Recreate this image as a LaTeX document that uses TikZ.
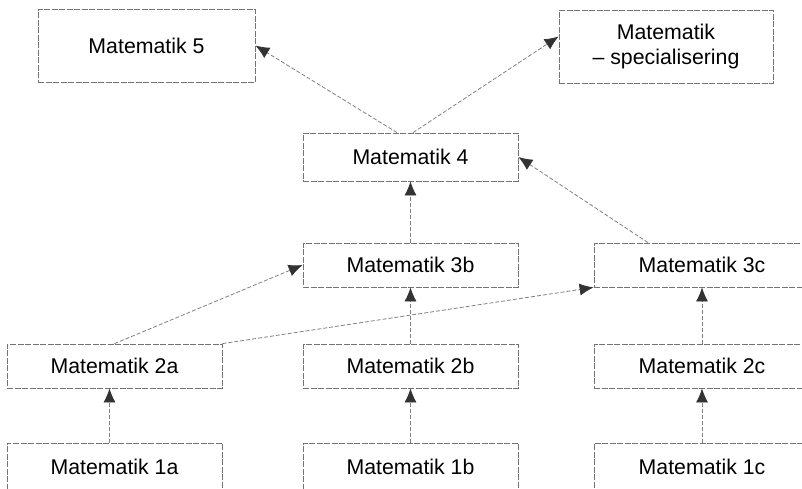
\documentclass[tikz,border=0pt]{standalone}
\usepackage{fontspec}
\setmainfont{Liberation Sans}
\usetikzlibrary{arrows.meta}
\begin{document}
\begin{tikzpicture}[x=1pt,y=-1pt,
  box/.style={draw=black!55, line width=0.8pt, dash pattern=on 6pt off 1.5pt,
    inner sep=0pt, align=center, text=black,
    font=\fontsize{21.3}{25.6}\selectfont},
  link/.style={draw=black!50, line width=0.8pt, dash pattern=on 4pt off 2pt,
    -{Latex[length=14pt,width=12pt,color=black!80]}}]
\useasboundingbox (0,0) rectangle (802,488);
\clip (0,0) rectangle (802,488);
\node[box, minimum width=217pt, minimum height=73pt] (m5) at (146.5,45.5) {Matematik 5};
\node[box, minimum width=214pt, minimum height=73pt] (spec) at (666,46.5) {Matematik\\– specialisering};
\node[box, minimum width=215pt, minimum height=48pt] (m4) at (410.5,157) {Matematik 4};
\node[box, minimum width=215pt, minimum height=44pt] (m3b) at (410.5,265) {Matematik 3b};
\node[box, minimum width=216pt, minimum height=44pt] (m3c) at (702,265) {Matematik 3c};
\node[box, minimum width=215pt, minimum height=44pt] (m2a) at (114.5,366) {Matematik 2a};
\node[box, minimum width=215pt, minimum height=44pt] (m2b) at (410.5,366) {Matematik 2b};
\node[box, minimum width=216pt, minimum height=44pt] (m2c) at (702,366) {Matematik 2c};
\node[box, minimum width=215pt, minimum height=47pt] (m1a) at (114.5,466.5) {Matematik 1a};
\node[box, minimum width=215pt, minimum height=47pt] (m1b) at (410.5,466.5) {Matematik 1b};
\node[box, minimum width=216pt, minimum height=47pt] (m1c) at (702,466.5) {Matematik 1c};
\draw[link] ([xshift=-13.5pt]m4.north) -- (m5.east);
\draw[link] ([xshift=2.5pt]m4.north) -- ([yshift=10pt]spec.west);
\draw[link] ([xshift=-54pt]m3c.north) -- (m4.east);
\draw[link] (m3b.north) -- (m4.south);
\draw[link] (m2b.north) -- (m3b.south);
\draw[link] (m1b.north) -- (m2b.south);
\draw[link] ([xshift=-5pt]m1a.north) -- ([xshift=-5pt]m2a.south);
\draw[link] (m1c.north) -- (m2c.south);
\draw[link] (m2c.north) -- (m3c.south);
\draw[link] (m2a.north) -- (m3b.west);
\draw[link] (m2a.north east) -- (m3c.south west);
\end{tikzpicture}
\end{document}
